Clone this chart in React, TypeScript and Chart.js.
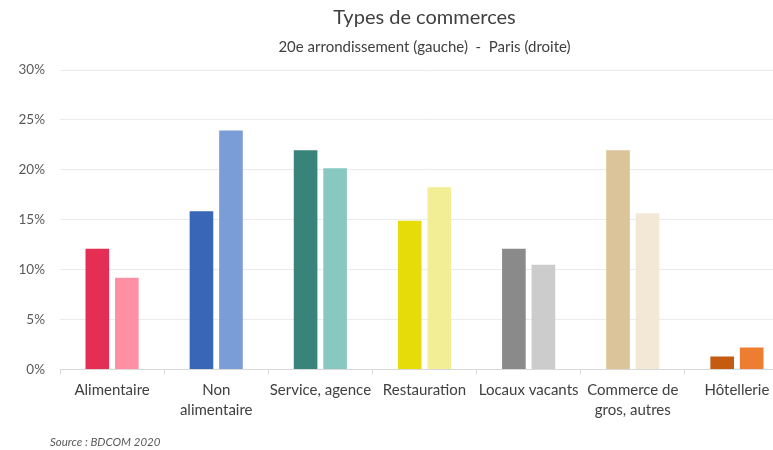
import React, { useEffect, useRef } from "react";
import { Chart, registerables } from "chart.js";

Chart.register(...registerables);

const categories: (string | string[])[] = [
  "Alimentaire",
  ["Non", "alimentaire"],
  "Service, agence",
  "Restauration",
  "Locaux vacants",
  ["Commerce de", "gros, autres"],
  "Hôtellerie",
];

const arrondissement20 = [12.1, 15.85, 21.95, 14.9, 12.1, 21.95, 1.3];
const paris = [9.2, 23.95, 20.15, 18.25, 10.5, 15.65, 2.2];

const colors20 = ["#E42E53", "#3A66B8", "#38837A", "#E6DC0A", "#8A8A8A", "#DBC598", "#C55A11"];
const colorsParis = ["#FF90A4", "#7B9DD7", "#88C8C0", "#F2EE96", "#CCCCCC", "#F3E8D5", "#ED7D31"];

const yTicks = [0, 5, 10, 15, 20, 25, 30];

const FONT = "Lato, 'Noto Sans', sans-serif";

export default function App() {
  const ref = useRef<HTMLCanvasElement | null>(null);

  useEffect(() => {
    if (!ref.current) return;
    const chart = new Chart(ref.current, {
      type: "bar",
      data: {
        labels: categories,
        datasets: [
          {
            label: "20e arrondissement",
            data: arrondissement20,
            backgroundColor: colors20,
            categoryPercentage: 0.567,
            barPercentage: 0.8,
          },
          {
            label: "Paris",
            data: paris,
            backgroundColor: colorsParis,
            categoryPercentage: 0.567,
            barPercentage: 0.8,
          },
        ],
      },
      options: {
        responsive: false,
        animation: false,
        layout: { padding: { left: 0, right: 11, top: 0, bottom: 0 } },
        plugins: {
          legend: { display: false },
          tooltip: { enabled: false },
          title: {
            display: true,
            text: "Types de commerces",
            fullSize: false,
            color: "#404040",
            font: { family: FONT, size: 20, weight: "normal" },
            padding: { top: 6, bottom: 8 },
          },
          subtitle: {
            display: true,
            text: "20e arrondissement (gauche)  -  Paris (droite)",
            fullSize: false,
            color: "#404040",
            font: { family: FONT, size: 15, weight: "normal" },
            padding: { top: 0, bottom: 14 },
          },
        },
        scales: {
          x: {
            afterFit: (axis: any) => {
              axis.height = 80.5;
            },
            grid: {
              offset: true,
              drawOnChartArea: false,
              drawTicks: true,
              tickLength: 5,
              color: "#D9D9D9",
            },
            border: { display: true, color: "#D9D9D9" },
            ticks: {
              color: "#404040",
              font: { family: FONT, size: 15, lineHeight: 1.35 },
              padding: 5.5,
              maxRotation: 0,
              autoSkip: false,
            },
          },
          y: {
            min: 0,
            max: 30,
            afterFit: (axis: any) => {
              axis.width = 60;
            },
            afterBuildTicks: (axis: any) => {
              axis.ticks = yTicks.map((v) => ({ value: v }));
            },
            grid: { color: "#EBEBEB", drawTicks: false },
            border: { display: false },
            ticks: {
              color: "#595959",
              font: { family: FONT, size: 13.5 },
              padding: 15,
              callback: (v: any) => `${v}%`,
            },
          },
        },
      },
    });
    return () => chart.destroy();
  }, []);

  return (
    <div
      style={{
        position: "fixed",
        left: 0,
        top: 0,
        width: 773,
        height: 450,
        overflow: "hidden",
        background: "#fff",
      }}
    >
      <canvas ref={ref} width={800} height={450} style={{ display: "block" }} />
      <div
        style={{
          position: "absolute",
          left: 50,
          top: 435,
          fontFamily: FONT,
          fontStyle: "italic",
          fontSize: 11.5,
          color: "#595959",
          whiteSpace: "nowrap",
        }}
      >
        Source : BDCOM 2020
      </div>
    </div>
  );
}
